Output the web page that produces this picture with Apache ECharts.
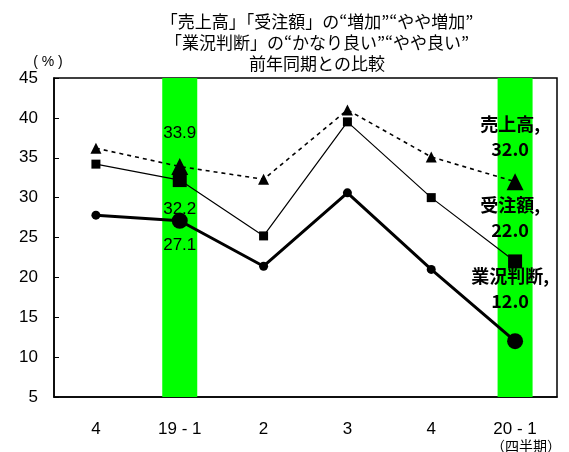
<!DOCTYPE html>
<html><head><meta charset="utf-8">
<script src="https://cdn.jsdelivr.net/npm/echarts@6/dist/echarts.min.js"></script>
<style>html,body{margin:0;padding:0;background:#fff}#c{width:569px;height:452px}</style>
</head><body><div id="c"></div><script>
const categories = ['4', '19-1', '2', '3', '4', '20-1'];
const salesName = '売上高';
const ordersName = '受注額';
const businessName = '業況判断';
const sales = [36.2, 33.9, 32.3, 41.0, 35.1, 32.0];
const orders = [34.2, 32.2, 25.2, 39.5, 30.0, 22.0];
const business = [27.8, 27.1, 21.4, 30.6, 21.0, 12.0];
const highlight = [null, 45, null, null, null, 45];
const yMin = 5, yMax = 45, yStep = 5;
const titleText = '「売上高」「受注額」の“増加”“やや増加”\n「業況判断」の“かなり良い”“やや良い”\n前年同期との比較';

const FONT = '"Liberation Sans", Arial, "Noto Sans CJK JP", sans-serif';
const JFONT = '"Noto Sans CJK JP", "Liberation Sans", sans-serif';
const last = categories.length - 1;

function build(vals, name, sym, small, big, midLabel) {
  return vals.map((v, i) => {
    const item = { value: v, symbol: sym, symbolSize: (i === 1 || i === last) ? big : small };
    if (i === 1 && midLabel) item.label = midLabel;
    if (i === last) item.label = {
      show: true, position: 'top', offset: [-5, 0], distance: name === businessName ? 20 : 12,
      formatter: name + ',\n' + v.toFixed(1),
      fontFamily: JFONT, fontWeight: 'bold', fontSize: 18, lineHeight: 25, color: '#000'
    };
    return item;
  });
}

const chart = echarts.init(document.getElementById('c'), null, { renderer: 'canvas' });
chart.setOption({
  animation: false,
  backgroundColor: '#fff',
  title: [
    { text: titleText, left: 312, top: 6, textAlign: 'center',
      textStyle: { fontFamily: JFONT, fontWeight: 'normal', fontSize: 17, lineHeight: 21, color: '#000' } },
    { text: '（四半期）', left: 521, top: 434, textAlign: 'center',
      textStyle: { fontFamily: JFONT, fontWeight: 'normal', fontSize: 14, color: '#000' } }
  ],
  grid: { left: 54, right: 12, top: 78, bottom: 55, show: true, borderColor: '#000', borderWidth: 1.5, backgroundColor: 'transparent' },
  xAxis: {
    type: 'category', data: categories, boundaryGap: true,
    axisLine: { lineStyle: { color: '#000', width: 1.5 } },
    axisTick: { inside: true, length: 5, lineStyle: { color: '#000' } },
    axisLabel: { margin: 24, fontFamily: FONT, fontSize: 17, color: '#000',
      formatter: v => v.replace('-', ' - ') }
  },
  yAxis: {
    type: 'value', min: yMin, max: yMax, interval: yStep,
    name: '( % )', nameLocation: 'end', nameGap: 4,
    nameTextStyle: { fontFamily: FONT, fontSize: 14, color: '#000', align: 'center', padding: [0, 12, 0, 0] },
    axisLine: { show: true, lineStyle: { color: '#000', width: 1.5 } },
    axisTick: { show: true, inside: true, length: 5, lineStyle: { color: '#000' } },
    splitLine: { show: false },
    axisLabel: { margin: 16, fontFamily: FONT, fontSize: 17, color: '#000' }
  },
  series: [
    { type: 'bar', data: highlight, barWidth: 35, clip: true, z: 1,
      itemStyle: { color: '#00ff00' }, silent: true },
    { type: 'line', name: salesName, z: 5,
      data: build(sales, salesName, 'triangle', 11, 17,
        { show: true, position: 'top', distance: 16, fontFamily: FONT, fontSize: 17, color: '#000' }),
      lineStyle: { color: '#000', width: 1.6, type: [4, 4] },
      itemStyle: { color: '#000' } },
    { type: 'line', name: ordersName, z: 5,
      data: build(orders, ordersName, 'rect', 9, 14,
        { show: true, position: 'bottom', distance: 14, fontFamily: FONT, fontSize: 17, color: '#000' }),
      lineStyle: { color: '#000', width: 1.2 },
      itemStyle: { color: '#000' } },
    { type: 'line', name: businessName, z: 5,
      data: build(business, businessName, 'circle', 9, 16,
        { show: true, position: 'bottom', distance: 8, fontFamily: FONT, fontSize: 17, color: '#000' }),
      lineStyle: { color: '#000', width: 3 },
      itemStyle: { color: '#000' } }
  ]
});
</script></body></html>
